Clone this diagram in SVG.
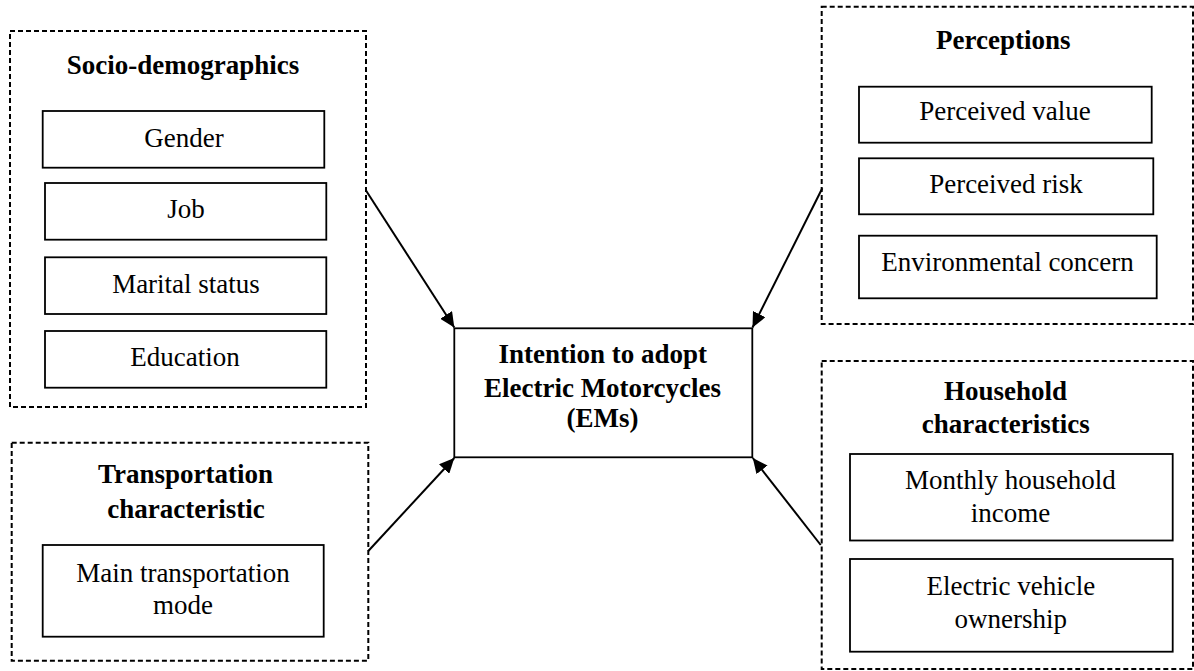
<svg xmlns="http://www.w3.org/2000/svg" width="1194" height="671" viewBox="0 0 1194 671">
<style>
.grp{fill:none;stroke:#000;stroke-width:2;stroke-dasharray:5 3}
.box{fill:#fff;stroke:#000;stroke-width:1.8}
.t{font-family:"Liberation Serif","Times New Roman",serif;font-size:27px;fill:#000;text-anchor:middle}
.b{font-weight:bold}
.conn{stroke:#000;stroke-width:2;fill:none;marker-end:url(#arr)}
</style>
<defs>
<marker id="arr" markerUnits="userSpaceOnUse" markerWidth="16" markerHeight="14" refX="15" refY="7" orient="auto">
<path d="M0,0 L15,7 L0,14 Z" fill="#000"/>
</marker>
</defs>
<rect width="1194" height="671" fill="#fff"/>

<g id="socio">
<rect class="grp" x="10" y="31" width="356" height="376"/>
<text class="t b" x="183" y="74">Socio-demographics</text>
<rect class="box" x="42.7" y="111" width="281.6" height="56.7"/>
<text class="t" x="184" y="147">Gender</text>
<rect class="box" x="45" y="183" width="281.3" height="56.7"/>
<text class="t" x="186" y="218">Job</text>
<rect class="box" x="45" y="257.3" width="281.3" height="56.7"/>
<text class="t" x="186" y="293">Marital status</text>
<rect class="box" x="45" y="331" width="281.3" height="56.7"/>
<text class="t" x="185" y="366">Education</text>
</g>

<g id="transport">
<rect class="grp" x="11.7" y="442.7" width="356.6" height="218"/>
<text class="t b" x="185.5" y="483">Transportation</text>
<text class="t b" x="186" y="518">characteristic</text>
<rect class="box" x="42.7" y="545" width="281" height="91.7"/>
<text class="t" x="183" y="582">Main transportation</text>
<text class="t" x="183" y="613.5">mode</text>
</g>

<g id="perceptions">
<rect class="grp" x="821.7" y="6.7" width="371.3" height="317.3"/>
<text class="t b" x="1003.3" y="49.3">Perceptions</text>
<rect class="box" x="859" y="86.7" width="292.7" height="56"/>
<text class="t" x="1005" y="120">Perceived value</text>
<rect class="box" x="859" y="158.3" width="294.3" height="56"/>
<text class="t" x="1006" y="193.3">Perceived risk</text>
<rect class="box" x="859" y="235.7" width="297.7" height="62.6"/>
<text class="t" x="1007.5" y="270.7">Environmental concern</text>
</g>

<g id="household">
<rect class="grp" x="821.7" y="361" width="371.3" height="308"/>
<text class="t b" x="1005.5" y="400">Household</text>
<text class="t b" x="1005.8" y="433.3">characteristics</text>
<rect class="box" x="850" y="454" width="322.7" height="86.5"/>
<text class="t" x="1010.5" y="488.5">Monthly household</text>
<text class="t" x="1010.5" y="522">income</text>
<rect class="box" x="850" y="559" width="322.7" height="92.7"/>
<text class="t" x="1010.8" y="594.5">Electric vehicle</text>
<text class="t" x="1010.8" y="627.5">ownership</text>
</g>

<g id="intention">
<rect class="box" x="454.3" y="328.3" width="298" height="129"/>
<text class="t b" x="602.8" y="363.3">Intention to adopt</text>
<text class="t b" x="602.5" y="397.3">Electric Motorcycles</text>
<text class="t b" x="602.5" y="426.7">(EMs)</text>
</g>

<g id="connectors">
<line class="conn" x1="366" y1="190.5" x2="454.3" y2="327.5"/>
<line class="conn" x1="822.3" y1="188.3" x2="752.5" y2="327.5"/>
<line class="conn" x1="368.3" y1="551" x2="454.3" y2="458"/>
<line class="conn" x1="820.7" y1="545" x2="752.8" y2="458"/>
</g>
</svg>
